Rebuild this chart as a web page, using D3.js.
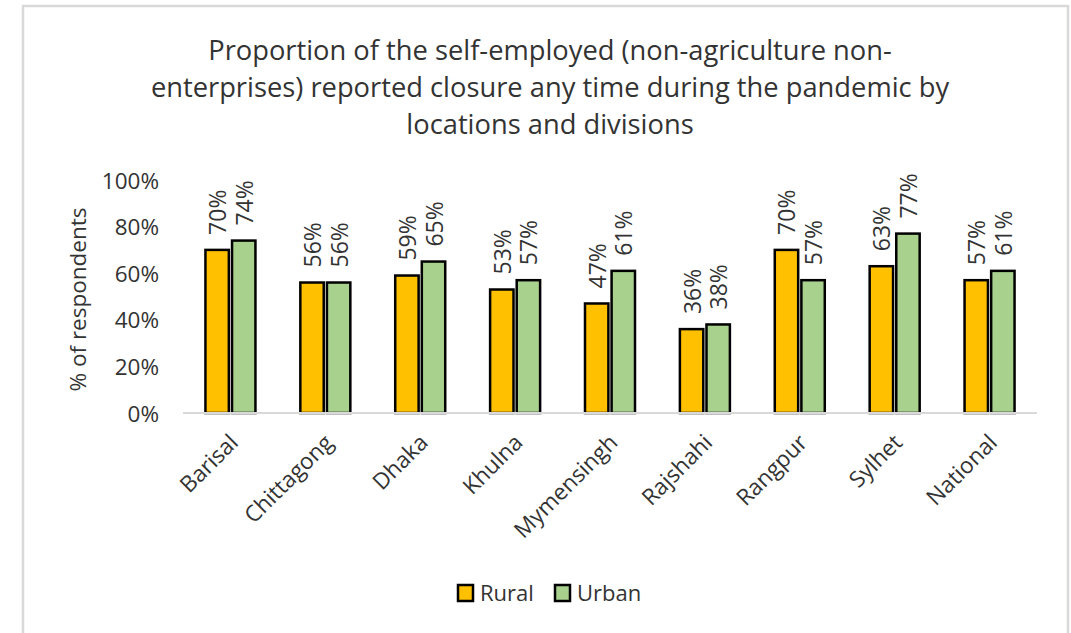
<!DOCTYPE html>
<html>
<head>
<meta charset="utf-8">
<script src="https://cdn.jsdelivr.net/npm/d3@7"></script>
<style>
  html, body { margin: 0; padding: 0; background: #fff; }
  svg text { font-family: "Open Sans", "Liberation Sans", sans-serif; fill: #333; }
</style>
</head>
<body>
<svg id="chart" width="1071" height="633"></svg>
<script>
// Divisions and the two location series (percent of respondents)
const categories = ["Barisal", "Chittagong", "Dhaka", "Khulna", "Mymensingh", "Rajshahi", "Rangpur", "Sylhet", "National"];
const rural = [70, 56, 59, 53, 47, 36, 70, 63, 57];
const urban = [74, 56, 65, 57, 61, 38, 57, 77, 61];
const seriesNames = ["Rural", "Urban"];
const yTicks = [0, 20, 40, 60, 80, 100];
const titleLines = [
  "Proportion of the self-employed (non-agriculture non-",
  "enterprises) reported closure any time during the pandemic by",
  "locations and divisions"
];

const colors = { Rural: "#FFC000", Urban: "#A9D18E" };
const svg = d3.select("#chart");

// Outer chart frame
svg.append("rect")
  .attr("x", 23).attr("y", 6).attr("width", 1045).attr("height", 660)
  .attr("fill", "#fff").attr("stroke", "#d9d9d9").attr("stroke-width", 2.5);

const plot = { left: 183, right: 1037, top: 180, bottom: 413 };

const x = d3.scaleBand().domain(categories).range([plot.left, plot.right]).paddingInner(0).paddingOuter(0);
const x1 = d3.scaleBand().domain(seriesNames).range([0, 50]).paddingInner(0.12);
const y = d3.scaleLinear().domain([0, 100]).range([plot.bottom, plot.top]);

// Title
svg.append("g").selectAll("text").data(titleLines).join("text")
  .attr("x", 550).attr("y", (d, i) => 60 + i * 37)
  .attr("text-anchor", "middle")
  .attr("font-size", 27.3)
  .text(d => d);

// Y axis labels
const yAxis = svg.append("g")
  .attr("transform", `translate(${plot.left},0)`)
  .call(d3.axisLeft(y).tickValues(yTicks).tickFormat(d => d + "%").tickSize(0).tickPadding(24));
yAxis.select(".domain").remove();
yAxis.selectAll("text").attr("font-size", 22.5).attr("dy", "0.36em")
  .style("font-family", '"Open Sans", "Liberation Sans", sans-serif').attr("fill", "#333");

// Y axis title
svg.append("text")
  .attr("transform", `translate(86,${(plot.top + plot.bottom) / 2 + 3}) rotate(-90)`)
  .attr("text-anchor", "middle")
  .attr("font-size", 22.5)
  .text("% of respondents");

// Bars
const rows = categories.map((c, i) => ({ c, values: [
  { s: "Rural", v: rural[i] }, { s: "Urban", v: urban[i] }
]}));

const groups = svg.append("g").selectAll("g").data(rows).join("g")
  .attr("transform", d => `translate(${x(d.c) + x.bandwidth() / 2 - 25},0)`);

groups.selectAll("rect").data(d => d.values).join("rect")
  .attr("x", d => x1(d.s))
  .attr("y", d => y(d.v))
  .attr("width", x1.bandwidth())
  .attr("height", d => y(0) - y(d.v))
  .attr("fill", d => colors[d.s])
  .attr("stroke", "#000").attr("stroke-width", 2.5);

// Value labels, rotated
groups.selectAll("text.val").data(d => d.values).join("text")
  .attr("class", "val")
  .attr("transform", d => `translate(${x1(d.s) + x1.bandwidth() / 2 + 9},${y(d.v) - 15}) rotate(-90)`)
  .attr("text-anchor", "start")
  .attr("font-size", 23)
  .text(d => d.v + "%");

// X axis baseline
svg.append("line")
  .attr("x1", plot.left).attr("x2", plot.right)
  .attr("y1", plot.bottom).attr("y2", plot.bottom)
  .attr("stroke", "#d9d9d9").attr("stroke-width", 2);

// Category labels, rotated -45
svg.append("g").selectAll("text").data(categories).join("text")
  .attr("transform", d => `translate(${x(d) + x.bandwidth() / 2 + 9},${plot.bottom + 31}) rotate(-45)`)
  .attr("text-anchor", "end")
  .attr("font-size", 22.5)
  .text(d => d);

// Legend
const legend = svg.append("g").attr("transform", "translate(458,585)");
const li = legend.selectAll("g").data(seriesNames).join("g")
  .attr("transform", (d, i) => `translate(${i * 97},0)`);
li.append("rect").attr("width", 15).attr("height", 16)
  .attr("fill", d => colors[d]).attr("stroke", "#000").attr("stroke-width", 2.5);
li.append("text").attr("x", 22).attr("y", 16).attr("font-size", 22).text(d => d);
</script>
</body>
</html>
